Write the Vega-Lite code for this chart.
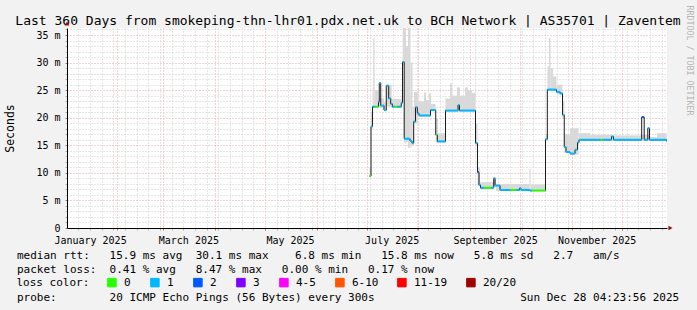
{
  "$schema": "https://vega.github.io/schema/vega-lite/v6.json",
  "width": 600,
  "height": 200,
  "autosize": "none",
  "padding": {"left": 67, "top": 28, "right": 30, "bottom": 82},
  "background": "#f2f2f2",
  "config": {
    "view": {"stroke": null, "fill": "#ffffff"},
    "font": "DejaVu Sans Mono"
  },
  "datasets": {
    "smoke": [
      {"start": "2025-07-02T16:00", "end": "2025-07-03T14:00", "lo": 9.2, "hi": 11.0},
      {"start": "2025-07-03T14:00", "end": "2025-07-04T12:00", "lo": 18.0, "hi": 21.0},
      {"start": "2025-07-04T12:00", "end": "2025-07-04T22:00", "lo": 21.8, "hi": 25.3},
      {"start": "2025-07-04T22:00", "end": "2025-07-05T18:00", "lo": 21.8, "hi": 34.4},
      {"start": "2025-07-05T18:00", "end": "2025-07-08T02:00", "lo": 21.8, "hi": 25.0},
      {"start": "2025-07-08T02:00", "end": "2025-07-11T09:00", "lo": 21.8, "hi": 23.5},
      {"start": "2025-07-11T09:00", "end": "2025-07-12T18:00", "lo": 21.2, "hi": 22.8},
      {"start": "2025-07-12T18:00", "end": "2025-07-16T00:00", "lo": 22.0, "hi": 26.0},
      {"start": "2025-07-16T00:00", "end": "2025-07-22T00:00", "lo": 21.8, "hi": 23.4},
      {"start": "2025-07-22T00:00", "end": "2025-07-22T14:00", "lo": 22.5, "hi": 26.0},
      {"start": "2025-07-22T14:00", "end": "2025-07-23T09:00", "lo": 29.5, "hi": 36.3},
      {"start": "2025-07-23T09:00", "end": "2025-07-24T14:00", "lo": 15.5, "hi": 36.3},
      {"start": "2025-07-24T14:00", "end": "2025-07-25T19:00", "lo": 15.6, "hi": 33.0},
      {"start": "2025-07-25T19:00", "end": "2025-07-27T07:00", "lo": 14.5, "hi": 36.3},
      {"start": "2025-07-27T07:00", "end": "2025-07-28T12:00", "lo": 14.8, "hi": 30.0},
      {"start": "2025-07-28T12:00", "end": "2025-07-29T09:00", "lo": 15.0, "hi": 22.0},
      {"start": "2025-07-29T09:00", "end": "2025-07-31T19:00", "lo": 19.0, "hi": 24.7},
      {"start": "2025-07-31T19:00", "end": "2025-08-04T09:00", "lo": 20.2, "hi": 23.0},
      {"start": "2025-08-04T09:00", "end": "2025-08-05T14:00", "lo": 20.2, "hi": 24.6},
      {"start": "2025-08-05T14:00", "end": "2025-08-07T09:00", "lo": 20.2, "hi": 23.2},
      {"start": "2025-08-07T09:00", "end": "2025-08-08T14:00", "lo": 20.2, "hi": 24.4},
      {"start": "2025-08-08T14:00", "end": "2025-08-11T10:00", "lo": 21.2, "hi": 22.5},
      {"start": "2025-08-11T10:00", "end": "2025-08-12T19:00", "lo": 15.5, "hi": 19.9},
      {"start": "2025-08-12T19:00", "end": "2025-08-17T07:00", "lo": 15.5, "hi": 17.2},
      {"start": "2025-08-17T07:00", "end": "2025-08-20T00:00", "lo": 21.1, "hi": 23.5},
      {"start": "2025-08-20T00:00", "end": "2025-08-21T04:00", "lo": 21.1, "hi": 26.2},
      {"start": "2025-08-21T04:00", "end": "2025-08-24T04:00", "lo": 21.1, "hi": 24.0},
      {"start": "2025-08-24T04:00", "end": "2025-08-26T00:00", "lo": 21.1, "hi": 25.5},
      {"start": "2025-08-26T00:00", "end": "2025-08-29T00:00", "lo": 21.1, "hi": 24.0},
      {"start": "2025-08-29T00:00", "end": "2025-08-30T19:00", "lo": 21.1, "hi": 25.5},
      {"start": "2025-08-30T19:00", "end": "2025-09-02T04:00", "lo": 21.1, "hi": 25.0},
      {"start": "2025-09-02T04:00", "end": "2025-09-04T07:00", "lo": 21.1, "hi": 24.5},
      {"start": "2025-09-04T07:00", "end": "2025-09-05T12:00", "lo": 15.0, "hi": 18.9},
      {"start": "2025-09-05T12:00", "end": "2025-09-07T00:00", "lo": 7.6, "hi": 11.0},
      {"start": "2025-09-07T00:00", "end": "2025-09-14T19:00", "lo": 7.0, "hi": 8.3},
      {"start": "2025-09-14T19:00", "end": "2025-09-16T14:00", "lo": 7.5, "hi": 9.2},
      {"start": "2025-09-16T14:00", "end": "2025-10-06T16:00", "lo": 6.7, "hi": 8.0},
      {"start": "2025-10-06T16:00", "end": "2025-10-07T07:00", "lo": 6.7, "hi": 10.7},
      {"start": "2025-10-07T07:00", "end": "2025-10-16T14:00", "lo": 6.6, "hi": 7.9},
      {"start": "2025-10-16T14:00", "end": "2025-10-17T12:00", "lo": 15.9, "hi": 17.0},
      {"start": "2025-10-17T12:00", "end": "2025-10-18T09:00", "lo": 24.9, "hi": 29.3},
      {"start": "2025-10-18T09:00", "end": "2025-10-19T07:00", "lo": 24.9, "hi": 34.5},
      {"start": "2025-10-19T07:00", "end": "2025-10-20T19:00", "lo": 24.9, "hi": 29.0},
      {"start": "2025-10-20T19:00", "end": "2025-10-22T21:00", "lo": 24.9, "hi": 27.5},
      {"start": "2025-10-22T21:00", "end": "2025-10-26T12:00", "lo": 24.2, "hi": 26.0},
      {"start": "2025-10-26T12:00", "end": "2025-10-27T16:00", "lo": 20.0, "hi": 23.0},
      {"start": "2025-10-27T16:00", "end": "2025-10-31T00:00", "lo": 13.6, "hi": 17.0},
      {"start": "2025-10-31T00:00", "end": "2025-11-05T02:00", "lo": 13.3, "hi": 18.1},
      {"start": "2025-11-05T02:00", "end": "2025-11-12T00:00", "lo": 15.8, "hi": 17.2},
      {"start": "2025-11-12T00:00", "end": "2025-11-25T04:00", "lo": 15.8, "hi": 16.9},
      {"start": "2025-11-25T04:00", "end": "2025-12-12T14:00", "lo": 15.8, "hi": 16.8},
      {"start": "2025-12-12T14:00", "end": "2025-12-18T00:00", "lo": 15.8, "hi": 16.9},
      {"start": "2025-12-18T00:00", "end": "2025-12-22T04:00", "lo": 15.8, "hi": 16.5},
      {"start": "2025-12-22T04:00", "end": "2025-12-27T21:00", "lo": 15.8, "hi": 17.2},
      {"start": "2025-12-27T21:00", "end": "2025-12-28T04:00", "lo": 15.6, "hi": 17.0}
    ],
    "median": [
      {"start": "2025-07-02T16:00", "end": "2025-07-03T14:00", "rtt": 9.4, "loss": "0"},
      {"start": "2025-07-03T14:00", "end": "2025-07-04T12:00", "rtt": 18.4, "loss": "1"},
      {"start": "2025-07-04T12:00", "end": "2025-07-05T23:00", "rtt": 22.0, "loss": "1"},
      {"start": "2025-07-05T23:00", "end": "2025-07-08T02:00", "rtt": 22.0, "loss": "0"},
      {"start": "2025-07-08T02:00", "end": "2025-07-08T13:00", "rtt": 22.9, "loss": "1"},
      {"start": "2025-07-08T13:00", "end": "2025-07-09T10:00", "rtt": 26.3, "loss": "1"},
      {"start": "2025-07-09T10:00", "end": "2025-07-11T09:00", "rtt": 22.2, "loss": "1"},
      {"start": "2025-07-11T09:00", "end": "2025-07-12T18:00", "rtt": 21.4, "loss": "1"},
      {"start": "2025-07-12T18:00", "end": "2025-07-14T05:00", "rtt": 25.8, "loss": "1"},
      {"start": "2025-07-14T05:00", "end": "2025-07-15T10:00", "rtt": 23.5, "loss": "1"},
      {"start": "2025-07-15T10:00", "end": "2025-07-16T09:00", "rtt": 22.5, "loss": "1"},
      {"start": "2025-07-16T09:00", "end": "2025-07-17T16:00", "rtt": 22.0, "loss": "1"},
      {"start": "2025-07-17T16:00", "end": "2025-07-19T12:00", "rtt": 22.0, "loss": "0"},
      {"start": "2025-07-19T12:00", "end": "2025-07-21T18:00", "rtt": 22.0, "loss": "1"},
      {"start": "2025-07-21T18:00", "end": "2025-07-22T12:00", "rtt": 22.7, "loss": "1"},
      {"start": "2025-07-22T12:00", "end": "2025-07-23T12:00", "rtt": 30.1, "loss": "1"},
      {"start": "2025-07-23T12:00", "end": "2025-07-27T00:00", "rtt": 16.2, "loss": "1"},
      {"start": "2025-07-27T00:00", "end": "2025-07-28T04:00", "rtt": 15.8, "loss": "1"},
      {"start": "2025-07-28T04:00", "end": "2025-07-29T05:00", "rtt": 15.4, "loss": "1"},
      {"start": "2025-07-29T05:00", "end": "2025-07-30T07:00", "rtt": 19.3, "loss": "1"},
      {"start": "2025-07-30T07:00", "end": "2025-07-31T09:00", "rtt": 21.9, "loss": "1"},
      {"start": "2025-07-31T09:00", "end": "2025-08-01T09:00", "rtt": 20.8, "loss": "1"},
      {"start": "2025-08-01T09:00", "end": "2025-08-08T07:00", "rtt": 20.4, "loss": "1"},
      {"start": "2025-08-08T07:00", "end": "2025-08-11T10:00", "rtt": 21.4, "loss": "1"},
      {"start": "2025-08-11T10:00", "end": "2025-08-12T09:00", "rtt": 16.9, "loss": "0"},
      {"start": "2025-08-12T09:00", "end": "2025-08-17T07:00", "rtt": 15.7, "loss": "1"},
      {"start": "2025-08-17T07:00", "end": "2025-08-24T19:00", "rtt": 21.3, "loss": "1"},
      {"start": "2025-08-24T19:00", "end": "2025-08-25T16:00", "rtt": 22.3, "loss": "1"},
      {"start": "2025-08-25T16:00", "end": "2025-09-04T07:00", "rtt": 21.3, "loss": "1"},
      {"start": "2025-09-04T07:00", "end": "2025-09-05T12:00", "rtt": 15.4, "loss": "1"},
      {"start": "2025-09-05T12:00", "end": "2025-09-06T09:00", "rtt": 10.1, "loss": "2"},
      {"start": "2025-09-06T09:00", "end": "2025-09-07T07:00", "rtt": 7.8, "loss": "1"},
      {"start": "2025-09-07T07:00", "end": "2025-09-09T09:00", "rtt": 7.3, "loss": "1"},
      {"start": "2025-09-09T09:00", "end": "2025-09-13T21:00", "rtt": 7.3, "loss": "0"},
      {"start": "2025-09-13T21:00", "end": "2025-09-15T06:00", "rtt": 7.3, "loss": "1"},
      {"start": "2025-09-15T06:00", "end": "2025-09-16T00:00", "rtt": 9.0, "loss": "1"},
      {"start": "2025-09-16T00:00", "end": "2025-09-19T00:00", "rtt": 7.7, "loss": "1"},
      {"start": "2025-09-19T00:00", "end": "2025-09-25T00:00", "rtt": 6.9, "loss": "1"},
      {"start": "2025-09-25T00:00", "end": "2025-09-28T21:00", "rtt": 6.9, "loss": "0"},
      {"start": "2025-09-28T21:00", "end": "2025-09-30T16:00", "rtt": 6.9, "loss": "1"},
      {"start": "2025-09-30T16:00", "end": "2025-10-01T14:00", "rtt": 7.2, "loss": "1"},
      {"start": "2025-10-01T14:00", "end": "2025-10-07T00:00", "rtt": 6.9, "loss": "1"},
      {"start": "2025-10-07T00:00", "end": "2025-10-08T04:00", "rtt": 6.8, "loss": "1"},
      {"start": "2025-10-08T04:00", "end": "2025-10-16T07:00", "rtt": 6.8, "loss": "0"},
      {"start": "2025-10-16T07:00", "end": "2025-10-17T09:00", "rtt": 16.1, "loss": "1"},
      {"start": "2025-10-17T09:00", "end": "2025-10-22T21:00", "rtt": 25.1, "loss": "1"},
      {"start": "2025-10-22T21:00", "end": "2025-10-25T00:00", "rtt": 24.7, "loss": "1"},
      {"start": "2025-10-25T00:00", "end": "2025-10-26T12:00", "rtt": 24.4, "loss": "1"},
      {"start": "2025-10-26T12:00", "end": "2025-10-27T13:00", "rtt": 20.5, "loss": "1"},
      {"start": "2025-10-27T13:00", "end": "2025-10-28T14:00", "rtt": 14.7, "loss": "1"},
      {"start": "2025-10-28T14:00", "end": "2025-10-31T00:00", "rtt": 13.8, "loss": "1"},
      {"start": "2025-10-31T00:00", "end": "2025-11-03T00:00", "rtt": 13.5, "loss": "1"},
      {"start": "2025-11-03T00:00", "end": "2025-11-04T12:00", "rtt": 14.2, "loss": "1"},
      {"start": "2025-11-04T12:00", "end": "2025-11-05T09:00", "rtt": 15.5, "loss": "1"},
      {"start": "2025-11-05T09:00", "end": "2025-11-18T07:00", "rtt": 16.0, "loss": "1"},
      {"start": "2025-11-18T07:00", "end": "2025-11-19T12:00", "rtt": 16.0, "loss": "0"},
      {"start": "2025-11-19T12:00", "end": "2025-11-24T21:00", "rtt": 16.0, "loss": "1"},
      {"start": "2025-11-24T21:00", "end": "2025-11-26T02:00", "rtt": 16.6, "loss": "1"},
      {"start": "2025-11-26T02:00", "end": "2025-12-13T00:00", "rtt": 16.0, "loss": "1"},
      {"start": "2025-12-13T00:00", "end": "2025-12-14T12:00", "rtt": 20.1, "loss": "2"},
      {"start": "2025-12-14T12:00", "end": "2025-12-16T16:00", "rtt": 16.0, "loss": "1"},
      {"start": "2025-12-16T16:00", "end": "2025-12-17T16:00", "rtt": 18.1, "loss": "1"},
      {"start": "2025-12-17T16:00", "end": "2025-12-27T21:00", "rtt": 16.0, "loss": "1"},
      {"start": "2025-12-27T21:00", "end": "2025-12-28T04:00", "rtt": 15.8, "loss": "1"},
      {"start": "2025-12-28T04:00", "end": "2025-12-28T04:00", "rtt": 15.8, "loss": "1"}
    ]
  },
  "resolve": {"axis": {"x": "independent", "y": "independent"}},
  "layer": [
    {
      "data": {"name": "smoke"},
      "mark": {"type": "rect", "color": "#d9d9d9", "clip": true},
      "encoding": {
        "x": {
          "field": "start", "type": "temporal",
          "scale": {"domain": [{"year": 2025, "month": 1, "date": 2, "hours": 4, "minutes": 24}, {"year": 2025, "month": 12, "date": 28, "hours": 4, "minutes": 24}]},
          "axis": {
            "orient": "bottom",
            "values": [
              {"year": 2025, "month": 1, "date": 16, "minutes": 1},
              {"year": 2025, "month": 3, "date": 16, "minutes": 1},
              {"year": 2025, "month": 5, "date": 16, "minutes": 1},
              {"year": 2025, "month": 7, "date": 16, "minutes": 1},
              {"year": 2025, "month": 9, "date": 16, "minutes": 1},
              {"year": 2025, "month": 11, "date": 16, "minutes": 1},
              {"year": 2025, "month": 1, "date": 9}, {"year": 2025, "month": 1, "date": 16}, {"year": 2025, "month": 1, "date": 23}, {"year": 2025, "month": 1, "date": 30},
              {"year": 2025, "month": 2, "date": 6}, {"year": 2025, "month": 2, "date": 13}, {"year": 2025, "month": 2, "date": 20}, {"year": 2025, "month": 2, "date": 27},
              {"year": 2025, "month": 3, "date": 6}, {"year": 2025, "month": 3, "date": 13}, {"year": 2025, "month": 3, "date": 20}, {"year": 2025, "month": 3, "date": 27},
              {"year": 2025, "month": 4, "date": 3}, {"year": 2025, "month": 4, "date": 10}, {"year": 2025, "month": 4, "date": 17}, {"year": 2025, "month": 4, "date": 24},
              {"year": 2025, "month": 5, "date": 8}, {"year": 2025, "month": 5, "date": 15}, {"year": 2025, "month": 5, "date": 22}, {"year": 2025, "month": 5, "date": 29},
              {"year": 2025, "month": 6, "date": 5}, {"year": 2025, "month": 6, "date": 12}, {"year": 2025, "month": 6, "date": 19}, {"year": 2025, "month": 6, "date": 26},
              {"year": 2025, "month": 7, "date": 3}, {"year": 2025, "month": 7, "date": 10}, {"year": 2025, "month": 7, "date": 17}, {"year": 2025, "month": 7, "date": 24}, {"year": 2025, "month": 7, "date": 31},
              {"year": 2025, "month": 8, "date": 7}, {"year": 2025, "month": 8, "date": 14}, {"year": 2025, "month": 8, "date": 21}, {"year": 2025, "month": 8, "date": 28},
              {"year": 2025, "month": 9, "date": 4}, {"year": 2025, "month": 9, "date": 11}, {"year": 2025, "month": 9, "date": 18}, {"year": 2025, "month": 9, "date": 25},
              {"year": 2025, "month": 10, "date": 2}, {"year": 2025, "month": 10, "date": 9}, {"year": 2025, "month": 10, "date": 16}, {"year": 2025, "month": 10, "date": 23}, {"year": 2025, "month": 10, "date": 30},
              {"year": 2025, "month": 11, "date": 6}, {"year": 2025, "month": 11, "date": 13}, {"year": 2025, "month": 11, "date": 20}, {"year": 2025, "month": 11, "date": 27},
              {"year": 2025, "month": 12, "date": 4}, {"year": 2025, "month": 12, "date": 11}, {"year": 2025, "month": 12, "date": 18}, {"year": 2025, "month": 12, "date": 25},
              {"year": 2025, "month": 2, "date": 1}, {"year": 2025, "month": 3, "date": 1}, {"year": 2025, "month": 4, "date": 1}, {"year": 2025, "month": 5, "date": 1},
              {"year": 2025, "month": 6, "date": 1}, {"year": 2025, "month": 7, "date": 1}, {"year": 2025, "month": 8, "date": 1}, {"year": 2025, "month": 9, "date": 1},
              {"year": 2025, "month": 10, "date": 1}, {"year": 2025, "month": 11, "date": 1}, {"year": 2025, "month": 12, "date": 1}
            ],
            "labelExpr": "minutes(datum.value) === 1 ? timeFormat(datum.value, '%B %Y') : ''",
            "labelFont": "DejaVu Sans Mono", "labelFontSize": 10, "labelColor": "#000000",
            "labelPadding": 5, "labelOverlap": false, "labelFlush": false, "labelBound": false,
            "tickSize": 2,
            "tickColor": {"condition": {"test": "date(datum.value) === 1", "value": "#c07070"}, "value": "#b0b0b0"},
            "tickOpacity": {"condition": {"test": "minutes(datum.value) === 1", "value": 0}, "value": 1},
            "grid": true,
            "gridColor": {"condition": {"test": "date(datum.value) === 1", "value": "#e6a8a8"}, "value": "#cfcfcf"},
            "gridOpacity": {"condition": {"test": "minutes(datum.value) === 1", "value": 0}, "value": 1},
            "gridDash": [1, 2],
            "domainColor": "#000000", "domainWidth": 1,
            "title": [
              "median rtt:\u00a0\u00a0\u00a015.9 ms avg\u00a0\u00a030.1 ms max\u00a0\u00a0\u00a0\u00a06.8 ms min\u00a0\u00a0\u00a015.8 ms now\u00a0\u00a0\u00a05.8 ms sd\u00a0\u00a0\u00a02.7\u00a0\u00a0\u00a0am/s",
              "packet loss:\u00a0\u00a00.41 % avg\u00a0\u00a0\u00a08.47 % max\u00a0\u00a0\u00a00.00 % min\u00a0\u00a0\u00a00.17 % now",
              "\u200b",
              "probe:\u00a0\u00a0\u00a0\u00a0\u00a0\u00a0\u00a0\u00a020 ICMP Echo Pings (56 Bytes) every 300s\u00a0\u00a0\u00a0\u00a0\u00a0\u00a0\u00a0\u00a0\u00a0\u00a0\u00a0\u00a0\u00a0\u00a0\u00a0\u00a0\u00a0\u00a0\u00a0\u00a0\u00a0\u00a0Sun Dec 28 04:23:56 2025"
            ],
            "titleX": -50.6, "titleY": 30.5, "titleAlign": "left", "titleAnchor": "start", "titleBaseline": "alphabetic",
            "titleFont": "DejaVu Sans Mono", "titleFontSize": 11, "titleFontWeight": "normal", "titleColor": "#000000",
            "titleLineHeight": 14, "titleLimit": 2000
          }
        },
        "x2": {"field": "end"},
        "y": {
          "field": "lo", "type": "quantitative",
          "scale": {"domain": [0, 36.27], "nice": false, "zero": true},
          "axis": {
            "orient": "left",
            "values": [0,1,2,3,4,5,6,7,8,9,10,11,12,13,14,15,16,17,18,19,20,21,22,23,24,25,26,27,28,29,30,31,32,33,34,35,36],
            "labelExpr": "datum.value === 0 ? '0\u00a0\u00a0' : (datum.value % 5 === 0 ? datum.value + ' m' : '')",
            "labelFont": "DejaVu Sans Mono", "labelFontSize": 10, "labelColor": "#000000",
            "labelPadding": 5, "labelOverlap": false, "labelFlush": false, "labelBound": false,
            "tickSize": 2,
            "tickColor": {"condition": {"test": "datum.value % 5 === 0", "value": "#c07070"}, "value": "#b0b0b0"},
            "grid": true,
            "gridColor": {"condition": {"test": "datum.value % 5 === 0", "value": "#e6a8a8"}, "value": "#cfcfcf"},
            "gridOpacity": {"condition": {"test": "datum.value === 0", "value": 0}, "value": 1},
            "gridDash": [1, 2],
            "domainColor": "#000000", "domainWidth": 1,
            "title": "Seconds",
            "titleX": -56.5, "titleY": 100, "titleAngle": -90, "titleAlign": "center", "titleBaseline": "middle",
            "titleFont": "DejaVu Sans Mono", "titleFontSize": 11.5, "titleFontWeight": "normal", "titleColor": "#000000"
          }
        },
        "y2": {"field": "hi"}
      }
    },
    {
      "data": {"name": "median"},
      "mark": {"type": "line", "interpolate": "step-after", "color": "#1c1c1c", "strokeWidth": 1},
      "encoding": {
        "x": {
          "field": "start", "type": "temporal",
          "axis": {
            "orient": "top", "domain": false, "ticks": false, "labels": false, "grid": false,
            "title": "Last 360 Days from smokeping-thn-lhr01.pdx.net.uk to BCH Network | AS35701 | Zaventem",
            "titleX": 280.5, "titleY": -4, "titleAlign": "center", "titleBaseline": "alphabetic", "titleAngle": 0,
            "titleFont": "DejaVu Sans Mono", "titleFontSize": 13, "titleFontWeight": "normal", "titleColor": "#000000", "titleLimit": 2000
          }
        },
        "y": {"field": "rtt", "type": "quantitative", "axis": null}
      }
    },
    {
      "data": {"name": "median"},
      "mark": {"type": "rule", "strokeWidth": 2},
      "encoding": {
        "x": {"field": "start", "type": "temporal", "axis": null},
        "x2": {"field": "end"},
        "y": {
          "field": "rtt", "type": "quantitative",
          "axis": {
            "orient": "right", "domain": false, "ticks": false, "labels": false, "grid": false,
            "title": "RRDTOOL / TOBI OETIKER",
            "titleX": 21, "titleY": 32, "titleAngle": 90, "titleAlign": "center", "titleBaseline": "middle",
            "titleFont": "DejaVu Sans Mono", "titleFontSize": 8.3, "titleFontWeight": "normal", "titleColor": "#b5b5b5", "titleLimit": 2000
          }
        },
        "color": {
          "field": "loss", "type": "nominal",
          "scale": {
            "domain": ["0", "1", "2", "3", "4-5", "6-10", "11-19", "20/20"],
            "range": ["#26ff00", "#00b8ff", "#0059ff", "#7e00ff", "#ff00ff", "#ff5500", "#ff0000", "#a00000"]
          },
          "legend": {
            "orient": "none", "legendX": -50.6, "legendY": 249, "direction": "horizontal",
            "title": "loss color:", "titleOrient": "left", "titlePadding": 17,
            "titleFont": "DejaVu Sans Mono", "titleFontSize": 11, "titleFontWeight": "normal", "titleColor": "#000000",
            "labelFont": "DejaVu Sans Mono", "labelFontSize": 11, "labelColor": "#000000", "labelOffset": 6.5,
            "symbolType": "square", "symbolSize": 72, "symbolStrokeWidth": 1, "symbolStrokeColor": "#000000",
            "columnPadding": 17, "padding": 0,
            "encode": {"symbols": {"update": {"fill": {"scale": "color", "field": "value"}, "stroke": {"value": "#000000"}, "strokeWidth": {"value": 1}, "opacity": {"value": 1}}}}
          }
        }
      }
    },
    {
      "data": {"values": [{}]},
      "mark": {"type": "point", "shape": "triangle-right", "filled": true, "color": "#8b1010", "size": 22, "opacity": 1},
      "encoding": {
        "x": {"datum": {"year": 2025, "month": 12, "date": 30, "hours": 6}, "type": "temporal", "axis": null},
        "y": {"datum": 0, "type": "quantitative", "axis": null}
      }
    },
    {
      "data": {"values": [{}]},
      "mark": {"type": "point", "shape": "triangle-up", "filled": true, "color": "#8b1010", "size": 22, "opacity": 1},
      "encoding": {
        "x": {"datum": {"year": 2025, "month": 1, "date": 2, "hours": 4, "minutes": 24}, "type": "temporal", "axis": null},
        "y": {"datum": 37.1, "type": "quantitative", "axis": null}
      }
    }
  ]
}
